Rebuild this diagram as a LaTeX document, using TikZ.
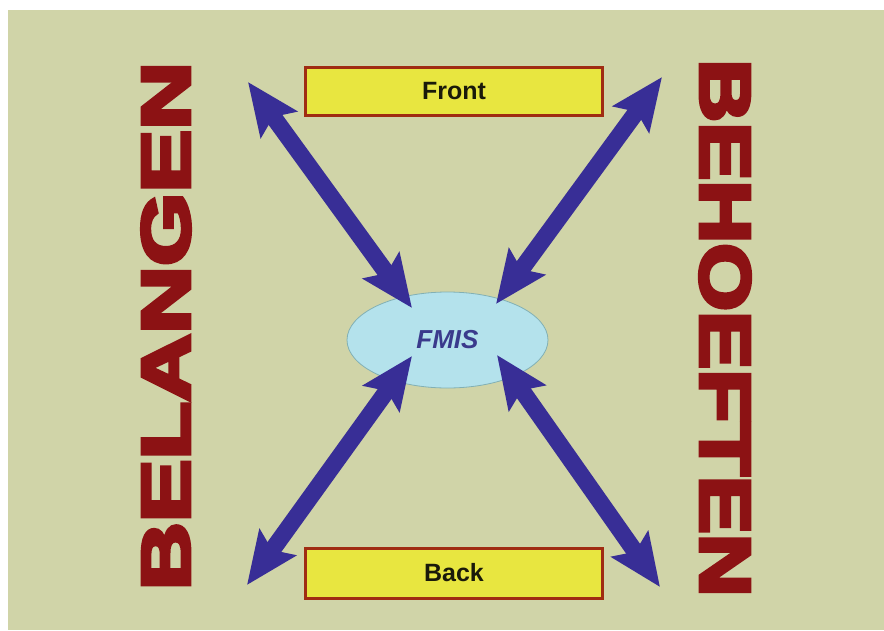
\documentclass[tikz,border=0pt]{standalone}
\usepackage{fontspec}
\setmainfont{Liberation Sans}
\newfontfamily\heavyfont[FakeBold=5]{Liberation Sans Bold}
\usetikzlibrary{arrows.meta,shapes.geometric}
\definecolor{bgkhaki}{RGB}{208,212,168}
\definecolor{wordred}{RGB}{140,18,20}
\definecolor{boxyellow}{RGB}{232,230,64}
\definecolor{boxborder}{RGB}{160,44,18}
\definecolor{arrowblue}{RGB}{56,46,150}
\definecolor{ellfill}{RGB}{180,226,236}
\definecolor{ellborder}{RGB}{130,176,180}
\definecolor{fmistext}{RGB}{58,58,140}
\definecolor{boxtext}{RGB}{26,26,10}
\tikzset{
  labelbox/.style={draw=boxborder, line width=3pt, fill=boxyellow, minimum width=297pt, minimum height=48pt, inner sep=0pt,
    font=\bfseries\fontsize{25}{25}\selectfont, text=boxtext},
  bigword/.style={text=wordred, inner sep=0pt},
  dblarrow/.style={draw=arrowblue, line width=17pt,
    {Stealth[length=52pt,width=44pt,inset=9pt]}-{Stealth[length=52pt,width=44pt,inset=9pt]}},
}
\begin{document}
\begin{tikzpicture}[x=1pt,y=-1pt]
\useasboundingbox (0,0) rectangle (884,630);
\fill[white] (0,0) rectangle (884,630);
\fill[bgkhaki] (8,10) rectangle (884,630);

\node[labelbox] (front) at (454,91) {Front};
\node[labelbox, minimum height=50pt] (back) at (454,573) {Back};

\node[ellipse, fill=ellfill, draw=ellborder, line width=0.8pt, minimum width=201pt, minimum height=96pt, inner sep=0pt] (fmis) at (447.5,340) {};

\coordinate (tlout) at (248,82);
\coordinate (tlin) at (412,308);
\coordinate (trout) at (662,77);
\coordinate (trin) at (496,304);
\coordinate (blin) at (412,356);
\coordinate (blout) at (247,585);
\coordinate (brin) at (497,355);
\coordinate (brout) at (660,587);

\draw[dblarrow] (tlout) -- (tlin);
\draw[dblarrow] (trout) -- (trin);
\draw[dblarrow] (blin) -- (blout);
\draw[dblarrow] (brin) -- (brout);

\node[text=fmistext, font=\bfseries\itshape\fontsize{26}{26}\selectfont] (fmislabel) at (fmis.center) {FMIS};

\node[bigword, rotate=90] (belangen) at (166,326) {\resizebox{528pt}{48pt}{\heavyfont BELANGEN}};
\node[bigword, rotate=-90] (behoeften) at (725,328) {\resizebox{537pt}{50pt}{\heavyfont BEHOEFTEN}};
\end{tikzpicture}
\end{document}
